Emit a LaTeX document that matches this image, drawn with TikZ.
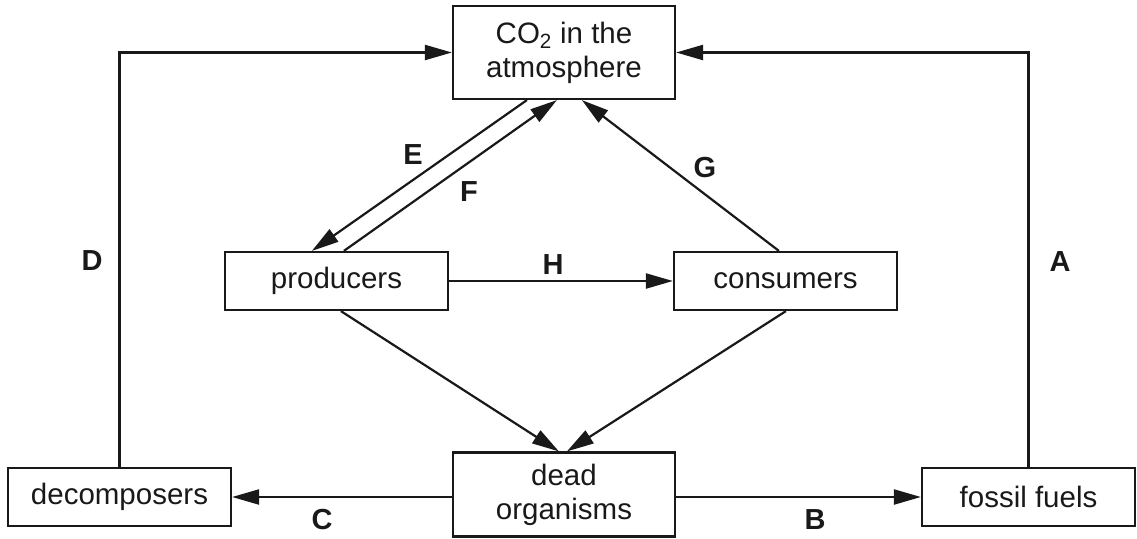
\documentclass[tikz,border=0pt]{standalone}
\usepackage{fontspec}
\setmainfont{Liberation Sans}
\usetikzlibrary{arrows.meta}
\begin{document}
\begin{tikzpicture}[x=1pt,y=-1pt,
  box/.style={draw=black!90,line width=2.2pt,rectangle,inner sep=0pt,align=center,
    font=\fontsize{29.5}{34}\selectfont,text=black!90},
  lbl/.style={font=\fontsize{29}{34}\selectfont\bfseries,text=black!90,inner sep=0pt},
  arr/.style={line width=2.2pt,draw=black!90,-{Triangle[length=27pt,width=15pt]}}]
\useasboundingbox (0,0) rectangle (1137,538);
\node[box,minimum width=222pt,minimum height=93pt] (co2) at (564,52.5) {CO\textsubscript{2} in the\\atmosphere};
\node[box,minimum width=223pt,minimum height=58pt] (prod) at (336.5,281) {producers};
\node[box,minimum width=223pt,minimum height=58pt] (cons) at (785.5,281) {consumers};
\node[box,minimum width=223pt,minimum height=58pt] (decomp) at (119.5,497) {decomposers};
\node[box,minimum width=222pt,minimum height=84pt] (dead) at (564,494.5) {dead\\organisms};
\node[box,minimum width=213pt,minimum height=58pt] (fossil) at (1028.5,497) {fossil fuels};
% connectors
\draw[arr] ([xshift=75pt]co2.south west) -- ([xshift=88pt]prod.north west);
\draw[arr] ([xshift=120pt]prod.north west) -- ([xshift=105pt]co2.south west);
\draw[arr] ([xshift=106pt]cons.north west) -- ([xshift=130pt]co2.south west);
\draw[arr] (prod.east) -- (cons.west);
\draw[arr] ([xshift=117pt]prod.south west) -- ([xshift=107pt]dead.north west);
\draw[arr] ([xshift=113pt]cons.south west) -- ([xshift=115pt]dead.north west);
\draw[arr] (dead.west |- decomp.east) -- (decomp.east);
\draw[arr] (dead.east |- fossil.west) -- (fossil.west);
\draw[arr] (decomp.north) |- (co2.west);
\draw[arr] (fossil.north) |- (co2.east);
% labels
\node[lbl] (lE) at (413,155) {E};
\node[lbl] (lF) at (469,192) {F};
\node[lbl] (lG) at (705,168) {G};
\node[lbl] (lH) at (553,265) {H};
\node[lbl] (lD) at (92,261) {D};
\node[lbl] (lA) at (1060,262) {A};
\node[lbl] (lC) at (322,520) {C};
\node[lbl] (lB) at (815,520) {B};
\end{tikzpicture}
\end{document}
